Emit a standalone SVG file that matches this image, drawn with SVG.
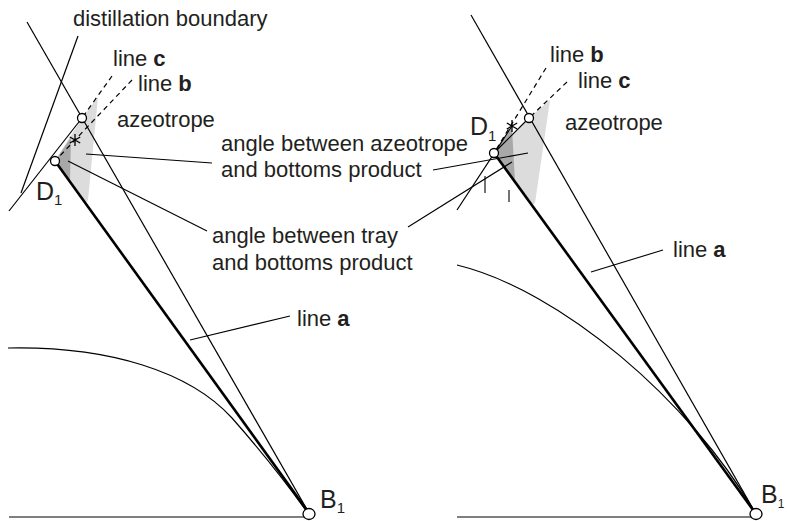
<svg xmlns="http://www.w3.org/2000/svg" width="787" height="521" viewBox="0 0 787 521">
<style>
text{font-family:"Liberation Sans",Arial,sans-serif;font-size:22px;fill:#231f20}
.ln{stroke:#000;stroke-width:1.2;fill:none}
.thick{stroke:#000;stroke-width:2.6;fill:none}
.dash{stroke:#000;stroke-width:1.2;fill:none;stroke-dasharray:5,4}
.pt{fill:#fff;stroke:#000;stroke-width:1.3}
.light{fill:#dcdcdc}
.dark{fill:#a8a8a8}
.lead{stroke:#000;stroke-width:1.1;fill:none}
.big{font-size:25px}
.sub{font-size:15px}
</style>
<defs>
<g id="star"><path d="M0,-6V6M-5.2,-3L5.2,3M-5.2,3L5.2,-3" stroke="#000" stroke-width="1.3"/></g>
</defs>

<g id="left-panel">
<g id="left-shading">
<polygon class="light" points="98,97 82,118 55,161 85,204 88,200"/>
<polygon class="dark" points="55,161 71,137 70,181"/>
</g>
<g id="left-connectors">
<line class="ln" x1="27" y1="22" x2="309" y2="513"/>
<line class="ln" x1="78" y1="36" x2="21" y2="193"/>
<line class="ln" x1="9" y1="211" x2="82" y2="118"/>
<line class="dash" x1="112" y1="76" x2="82" y2="118"/>
<line class="dash" x1="132" y1="80" x2="55" y2="161"/>
<line class="thick" x1="55" y1="161" x2="309" y2="513"/>
<path class="ln" d="M8,348 C110,346 190,372 232,418 C262,452 290,488 307,512"/>
<line class="ln" x1="9" y1="517" x2="304" y2="517"/>
<line class="lead" x1="86" y1="154" x2="212" y2="163"/>
<line class="lead" x1="68" y1="161" x2="207" y2="231"/>
<line class="lead" x1="290" y1="316" x2="190" y2="340"/>
</g>
<g id="left-azeotrope"><circle class="pt" cx="82" cy="118" r="4.5"/></g>
<g id="left-D1"><circle class="pt" cx="55" cy="161" r="4.5"/><text class="big" x="36" y="200">D<tspan class="sub" dy="5">1</tspan></text></g>
<g id="left-tray"><use href="#star" x="75" y="140"/></g>
<g id="left-B1"><ellipse class="pt" cx="309" cy="514" rx="6" ry="5.5"/><text class="big" x="320" y="508">B<tspan class="sub" dy="5">1</tspan></text></g>
<g id="left-labels">
<text x="73" y="26">distillation boundary</text>
<text x="113" y="66">line <tspan font-weight="bold">c</tspan></text>
<text x="138" y="91">line <tspan font-weight="bold">b</tspan></text>
<text x="117" y="127">azeotrope</text>
<text x="221" y="151">angle between azeotrope</text>
<text x="221" y="177">and bottoms product</text>
<text x="212" y="243">angle between tray</text>
<text x="212" y="270">and bottoms product</text>
<text x="297" y="326">line <tspan font-weight="bold">a</tspan></text>
</g>
</g>

<g id="right-panel">
<g id="right-shading">
<polygon class="light" points="550,100 529,118 494,153 532,205 535,203"/>
<polygon class="dark" points="494,153 512,128 515,182"/>
</g>
<g id="right-connectors">
<line class="ln" x1="471" y1="15" x2="756" y2="514"/>
<line class="ln" x1="494" y1="153" x2="529" y2="118"/>
<line class="ln" x1="457" y1="210" x2="512" y2="126"/>
<line class="dash" x1="546" y1="68" x2="494" y2="153"/>
<line class="dash" x1="567" y1="82" x2="529" y2="118"/>
<line class="thick" x1="494" y1="153" x2="756" y2="514"/>
<path class="ln" d="M457,265 C560,290 690,400 756,514"/>
<line class="ln" x1="457" y1="517" x2="751" y2="517"/>
<line class="lead" x1="433" y1="170" x2="528" y2="153"/>
<line class="lead" x1="408" y1="227" x2="512" y2="162"/>
<line class="lead" x1="485" y1="176" x2="485" y2="193"/>
<line class="lead" x1="509" y1="190" x2="509" y2="202" stroke="#999"/>
<line class="lead" x1="663" y1="250" x2="591" y2="272"/>
</g>
<g id="right-azeotrope"><circle class="pt" cx="529" cy="118" r="4.5"/></g>
<g id="right-D1"><circle class="pt" cx="494" cy="153" r="4.5"/><text class="big" x="470" y="135">D<tspan class="sub" dy="6">1</tspan></text></g>
<g id="right-tray"><use href="#star" x="512" y="126"/></g>
<g id="right-B1"><ellipse class="pt" cx="756" cy="514" rx="6" ry="5.5"/><text class="big" x="761" y="503">B<tspan font-size="12" dy="5">1</tspan></text></g>
<g id="right-labels">
<text x="550" y="62">line <tspan font-weight="bold">b</tspan></text>
<text x="578" y="88">line <tspan font-weight="bold">c</tspan></text>
<text x="565" y="130">azeotrope</text>
<text x="673" y="257">line <tspan font-weight="bold">a</tspan></text>
</g>
</g>
</svg>
